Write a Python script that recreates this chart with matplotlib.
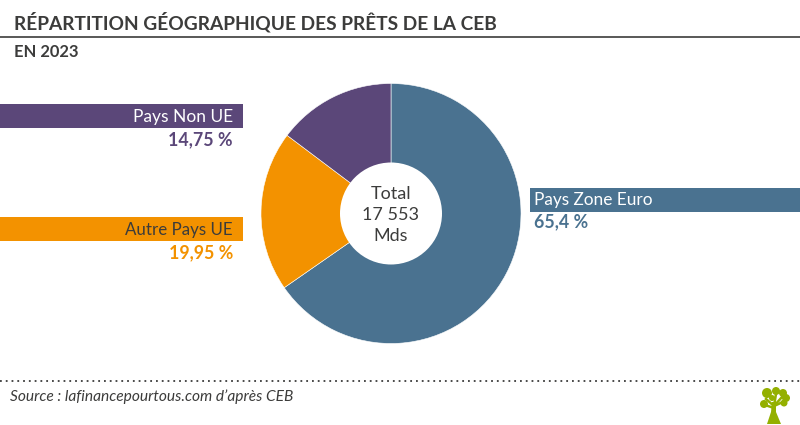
import matplotlib.pyplot as plt
from matplotlib.patches import Circle, Polygon, Rectangle

titleText = 'RÉPARTITION GÉOGRAPHIQUE DES PRÊTS DE LA CEB'
subTitleText = 'EN 2023'
sourceText = "Source : lafinancepourtous.com d’après CEB"
centerText = 'Total\n17 553\nMds'

sliceNames = ['Pays Zone Euro', 'Autre Pays UE', 'Pays Non UE']
sliceValues = [65.4, 19.95, 14.75]
sliceLabels = ['65,4 %', '19,95 %', '14,75 %']
sliceColors = ['#4a7290', '#f39200', '#5b4779']


def drawHeader(ax):
    ax.text(14, 22, titleText, fontsize=13.8, fontweight='bold', color='#3c3c3b', va='center', ha='left')
    ax.plot([0, 800], [36.5, 36.5], color='#3c3c3b', linewidth=1.2)
    ax.text(14, 52, subTitleText, fontsize=11.9, fontweight='bold', color='#3c3c3b', va='center', ha='left')


def drawPie(ax):
    # y axis is flipped, so going up in angle turns clockwise on screen
    ax.pie(sliceValues, colors=sliceColors, startangle=-90, counterclock=True, center=(391, 213.5), radius=130,
           wedgeprops={'edgecolor': 'white', 'linewidth': 0.4}, frame=True)
    ax.add_patch(Circle((391, 213.5), 51, facecolor='white', edgecolor='none', zorder=5))
    ax.text(391, 215, centerText, fontsize=13, color='#3c3c3b', ha='center', va='center', linespacing=1.4, zorder=6)


def drawLabels(ax):
    ax.add_patch(Rectangle((530, 188), 270, 24, facecolor=sliceColors[0], edgecolor='none'))
    ax.text(534, 200, sliceNames[0], fontsize=12.4, color='white', ha='left', va='center')
    ax.text(534, 222, sliceLabels[0], fontsize=12.8, fontweight='bold', color=sliceColors[0], ha='left', va='center')

    ax.add_patch(Rectangle((0, 217), 243, 24, facecolor=sliceColors[1], edgecolor='none'))
    ax.text(233, 230, sliceNames[1], fontsize=12.2, color='#3c3c3b', ha='right', va='center')
    ax.text(233, 253, sliceLabels[1], fontsize=12.8, fontweight='bold', color=sliceColors[1], ha='right', va='center')

    ax.add_patch(Rectangle((0, 104), 243, 24, facecolor=sliceColors[2], edgecolor='none'))
    ax.text(233, 117, sliceNames[2], fontsize=12.5, color='white', ha='right', va='center')
    ax.text(233, 140, sliceLabels[2], fontsize=12.8, fontweight='bold', color=sliceColors[2], ha='right', va='center')


def drawFooter(ax):
    ax.plot([0, 800], [381, 381], color='#3c3c3b', linewidth=1.3, linestyle=(0, (1, 2.2)))
    ax.text(10, 397, sourceText, fontsize=11.2, fontstyle='italic', color='#3c3c3b', ha='left', va='center')

    # little tree in the corner
    green = '#94b000'
    ax.add_patch(Polygon([(767, 424), (771, 412), (772, 402), (776, 402), (776, 412), (781, 424)], facecolor=green, edgecolor='none'))
    for x, y, r in [(767, 393, 5), (776, 391, 4), (783, 393, 4), (786, 398, 4), (784, 403, 3.5), (764, 404, 4), (772, 398, 3)]:
        ax.add_patch(Circle((x, y), r, facecolor=green, edgecolor='none'))
    ax.plot([766, 774], [399, 406], color=green, linewidth=1.8)
    ax.plot([776, 774], [394, 406], color=green, linewidth=1.8)
    ax.plot([782, 774], [397, 406], color=green, linewidth=1.8)
    ax.plot([785, 774], [401, 406], color=green, linewidth=1.8)
    ax.plot([765, 774], [405, 408], color=green, linewidth=1.8)


def main():
    plt.rcParams['font.family'] = ['Lato', 'DejaVu Sans']
    fig = plt.figure(figsize=(8, 4.25), dpi=100)
    ax = fig.add_axes([0, 0, 1, 1])

    drawPie(ax)
    drawHeader(ax)
    drawLabels(ax)
    drawFooter(ax)

    ax.set_xlim(0, 800)
    ax.set_ylim(425, 0)
    ax.set_aspect('equal')
    ax.axis('off')
    fig.savefig('out.png', dpi=100)

main()
